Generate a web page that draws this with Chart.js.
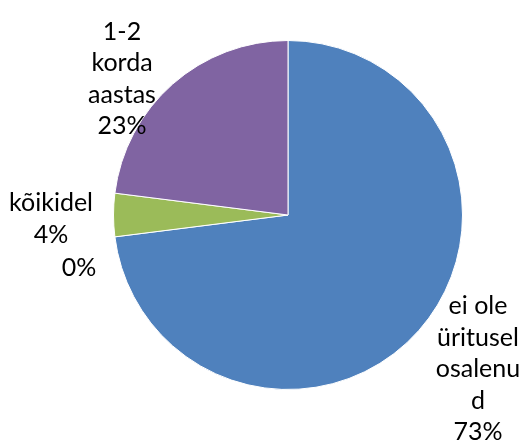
<!DOCTYPE html>
<html>
<head>
<meta charset="utf-8">
<script src="https://cdn.jsdelivr.net/npm/chart.js@4.4.1/dist/chart.umd.min.js"></script>
<style>
  html, body { margin: 0; padding: 0; background: #fff; }
  canvas { display: block; }
</style>
</head>
<body>
<canvas id="pie" width="523" height="444"></canvas>
<script>
// slice names, already broken into the lines they are printed on
const categories = [
  ['ei ole', 'üritusel', 'osalenu', 'd'],
  [''],
  ['kõikidel'],
  ['1-2', 'korda', 'aastas']
];
const shares = [73, 0, 4, 23];
const sliceColors = ['#4F81BD', '#C0504D', '#9BBB59', '#8064A2'];

// where each label block sits, relative to the pie centre (px)
const labelOffsets = [[190, 154], [-209, 53], [-237, 4], [-166, -136]];

const LINE_H = 31.5;

// draws the multi-line "name + percent" labels outside the slices
const outsideLabels = {
  id: 'outsideLabels',
  afterDatasetsDraw(chart) {
    const ctx = chart.ctx;
    const arcs = chart.getDatasetMeta(0).data;
    ctx.save();
    ctx.font = '25px Lato, "Open Sans", sans-serif';
    ctx.fillStyle = '#000';
    ctx.textAlign = 'center';
    ctx.textBaseline = 'middle';
    arcs.forEach((arc, i) => {
      const lines = categories[i].filter(s => s !== '').concat([shares[i] + '%']);
      const cx = arc.x + labelOffsets[i][0];
      const cy = arc.y + labelOffsets[i][1];
      const top = cy - (lines.length - 1) * LINE_H / 2;
      lines.forEach((t, j) => ctx.fillText(t, cx, top + j * LINE_H));
    });
    ctx.restore();
  }
};

new Chart(document.getElementById('pie'), {
  type: 'pie',
  data: {
    labels: categories.map(l => l.join(' ')),
    datasets: [{
      data: shares,
      backgroundColor: sliceColors,
      borderColor: '#fff',
      borderWidth: 1
    }]
  },
  options: {
    responsive: false,
    animation: false,
    layout: { padding: { left: 113, right: 60, top: 40, bottom: 54 } },
    plugins: {
      legend: { display: false },
      tooltip: { enabled: false }
    }
  },
  plugins: [outsideLabels]
});
</script>
</body>
</html>
